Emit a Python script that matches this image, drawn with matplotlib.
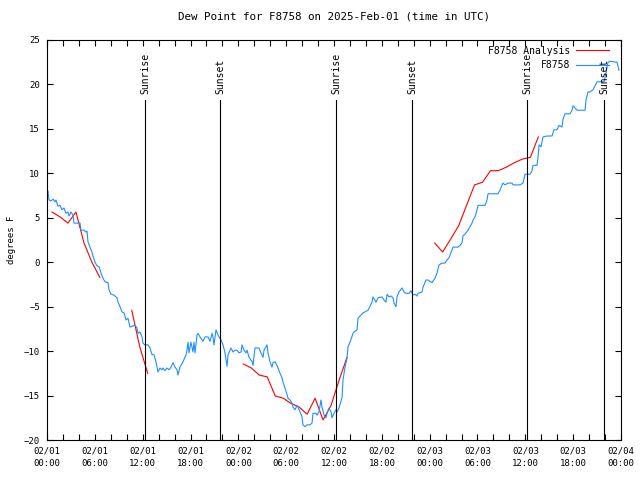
import matplotlib
matplotlib.use("Agg")
import matplotlib.pyplot as plt
import numpy as np

# hours since 2025-02-01 00:00 UTC
obs_hours = [0.13, 0.25, 0.50, 0.75, 1.00, 1.13, 1.38, 1.63, 1.88, 2.13, 2.38, 2.63, 2.76, 3.01, 3.26,
             3.39, 3.89, 4.14, 4.26, 4.64, 4.89, 5.02, 5.14, 5.39, 5.64, 5.77, 6.02, 6.27, 6.52, 6.77,
             7.02, 7.28, 7.65, 7.78, 8.03, 8.40, 8.78, 8.91, 9.16, 9.41, 9.66, 9.91, 10.16, 10.41, 10.66,
             11.04, 11.29, 11.42, 11.67, 11.92, 12.04, 12.29, 12.67, 12.92, 13.17, 13.42, 13.67, 13.92,
             14.17, 14.43, 14.55, 14.80, 15.05, 15.30, 15.55, 15.80, 16.06, 16.31, 16.43, 16.68, 17.06,
             17.44, 17.56, 17.69, 17.81, 18.06, 18.31, 18.44, 18.57, 18.82, 18.94, 19.19, 19.57, 19.82,
             20.20, 20.45, 20.70, 20.82, 20.95, 21.20, 21.45, 21.83, 22.08, 22.33, 22.58, 22.71, 23.08,
             23.33, 23.58, 23.83, 24.08, 24.34, 24.46, 24.71, 24.96, 25.09, 25.34, 25.72, 25.84, 26.09,
             26.59, 26.84, 27.10, 27.22, 27.60, 27.72, 27.97, 28.22, 28.35, 28.60, 28.85, 28.98, 29.23,
             29.48, 29.60, 29.85, 30.11, 30.23, 30.48, 30.73, 30.86, 31.11, 31.36, 31.49, 31.74, 31.99,
             32.11, 32.36, 32.61, 32.99, 33.24, 33.37, 33.74, 33.87, 34.12, 34.37, 34.50, 34.75, 35.00,
             35.12, 35.37, 35.63, 35.75, 36.00, 36.25, 36.38, 36.63, 37.01, 37.13, 37.38, 37.63, 37.76,
             38.01, 38.39, 38.51, 38.89, 39.01, 39.64, 40.27, 40.77, 40.89, 41.27, 41.52, 42.02, 42.27,
             42.52, 42.65, 42.90, 43.15, 43.40, 43.53, 43.78, 43.90, 44.15, 44.53, 44.78, 45.03, 45.41,
             45.66, 45.91, 46.16, 46.41, 46.54, 47.04, 47.17, 47.54, 47.79, 48.29, 48.67, 48.92, 49.17,
             49.55, 49.92, 50.18, 50.43, 50.80, 50.93, 51.56, 51.81, 52.06, 52.18, 52.56, 52.81, 53.06,
             53.31, 53.44, 53.69, 53.94, 54.07, 54.94, 55.19, 55.32, 56.57, 56.82, 57.08, 57.20, 57.45,
             57.83, 58.33, 58.46, 59.33, 59.71, 59.96, 60.59, 60.84, 60.96, 61.47, 61.59, 61.72, 61.97,
             62.22, 62.72, 63.35, 63.60, 63.97, 64.23, 64.60, 64.73, 64.98, 65.61, 65.86, 65.98, 66.49,
             67.49, 67.61, 67.86, 68.11, 68.49, 68.99, 69.87, 70.12, 70.37, 70.62, 71.50, 71.75]
obs_dewpt = [8.0, 7.0, 6.9, 7.1, 6.8, 7.0, 6.3, 6.4, 5.9, 6.1, 5.5, 5.65, 5.2, 5.65, 5.3,
             4.4, 4.4, 4.4, 3.6, 3.6, 3.4, 3.5, 2.3, 1.7, 1.15, 0.7, 0.0, -0.4, -0.5, -1.2,
             -1.8, -2.2, -2.3, -3.1, -3.6, -3.7, -4.0, -4.5, -5.0, -5.6, -5.7, -6.5, -6.3, -7.3, -7.2,
             -7.1, -7.4, -8.0, -7.85, -8.4, -9.1, -9.3, -9.3, -9.65, -10.4, -10.4, -11.2, -12.35,
             -11.9, -12.1, -11.9, -12.2, -11.9, -12.1, -11.8, -11.3, -11.8, -12.1, -12.7, -11.8, -11.2,
             -10.4, -9.9, -9.0, -10.2, -9.0, -10.1, -9.0, -10.2, -8.2, -8.0, -8.4, -8.9, -8.4,
             -8.4, -8.9, -8.0, -8.4, -9.3, -7.6, -8.2, -8.75, -9.3, -10.2, -11.7, -10.4, -9.65,
             -10.1, -9.9, -9.9, -10.2, -10.1, -9.3, -9.9, -10.2, -9.9, -10.7, -11.2, -11.6, -9.65,
             -9.65, -10.2, -10.7, -9.9, -9.3, -10.2, -11.2, -11.8, -11.3, -11.2, -11.6, -11.9, -12.5,
             -13.0, -13.5, -14.15, -14.9, -15.3, -15.5, -15.85, -16.3, -16.6, -16.1, -16.3, -16.85, -17.4,
             -18.3, -18.5, -18.3, -18.3, -18.1, -17.0, -17.0, -17.2, -16.85, -15.5, -16.3, -17.2, -17.5,
             -17.0, -16.4, -16.85, -17.5, -17.0, -16.6, -16.85, -16.4, -15.2, -13.25, -11.8, -10.8, -9.5,
             -9.0, -8.0, -7.85, -7.6, -6.3, -5.7, -5.4, -4.5, -3.9, -4.5, -4.0, -3.9, -4.25,
             -4.5, -3.6, -3.9, -3.8, -4.0, -4.6, -5.0, -3.9, -3.35, -2.9, -3.35, -3.5, -3.5,
             -3.2, -3.7, -3.6, -3.8, -3.5, -3.35, -2.8, -2.0, -2.0, -2.3, -1.8, -1.2, -0.3,
             -0.1, -0.1, 0.25, 0.5, 1.4, 1.7, 1.7, 1.9, 2.2, 2.95, 3.3, 3.6, 4.0,
             4.4, 4.75, 5.1, 5.9, 6.4, 6.4, 7.0, 7.7, 7.7, 8.1, 8.7, 8.9, 8.7,
             8.9, 8.9, 8.7, 8.7, 8.9, 9.9, 9.9, 10.3, 10.9, 10.9, 11.8, 13.2, 13.0,
             14.1, 14.2, 14.2, 14.9, 14.9, 15.4, 15.2, 16.1, 16.7, 16.7, 17.1, 17.6, 17.1,
             17.1, 18.25, 19.15, 19.15, 19.4, 20.3, 20.3, 21.3, 22.5, 22.6, 22.5, 21.6]

# hourly analysis, nan = missing
nan = np.nan
ana_hours = [k + 0.63 for k in range(62)]
ana_dewpt = [5.65, 5.1, 4.4, 5.65, 2.2, 0.0, -1.7, nan, nan, nan,
             -5.4, -9.5, -12.5, nan, nan, nan, nan, nan, nan, nan,
             nan, nan, nan, nan, -11.45, -11.9, -12.7, -12.9, -15.05, -15.3,
             -15.9, -16.3, -17.1, -15.3, -17.75, -16.1, -13.3, -10.7, nan, nan,
             nan, nan, nan, nan, nan, nan, nan, nan, 2.16, 1.15,
             2.6, 4.1, 6.4, 8.7, 9.0, 10.3, 10.3, 10.7, 11.2, 11.6,
             11.8, 14.1]

sun_hours = [12.29, 21.70, 36.25, 45.79, 60.21, 69.87]
sun_names = ["Sunrise", "Sunset", "Sunrise", "Sunset", "Sunrise", "Sunset"]

tick_hours = list(range(0, 73, 6))
tick_labels = ["02/01\n00:00", "02/01\n06:00", "02/01\n12:00", "02/01\n18:00",
               "02/02\n00:00", "02/02\n06:00", "02/02\n12:00", "02/02\n18:00",
               "02/03\n00:00", "02/03\n06:00", "02/03\n12:00", "02/03\n18:00",
               "02/04\n00:00"]

plt.rcParams['font.family'] = ['DejaVu Sans Mono']
plt.rcParams['font.size'] = 6.5

fig = plt.figure(figsize=(6.4, 4.8), dpi=100)
ax = fig.add_axes([47/640, 40/480, 574/640, 400/480])

ax.plot(ana_hours, ana_dewpt, color='#ff0000', lw=0.8, label='F8758 Analysis')
ax.plot(obs_hours, obs_dewpt, color='#1e90ff', lw=0.8, label='F8758')

#sunrise / sunset markers
for h, name in zip(sun_hours, sun_names):
    ax.plot([h, h], [0, 0.85], color='black', lw=0.8,
            transform=ax.get_xaxis_transform(), zorder=3)
    ax.text(h, 0.866, name, rotation=90, ha='center', va='bottom', fontsize=7,
            transform=ax.get_xaxis_transform(), zorder=4)

ax.set_xlim(0, 72)
ax.set_ylim(-20, 25)
ax.set_xticks(tick_hours)
ax.set_xticklabels(tick_labels, linespacing=1.5)
ax.set_xticks(range(0, 73, 2), minor=True)
ax.set_yticks(range(-20, 26, 5))
ax.tick_params(which='both', direction='in', top=True, right=True, length=4, width=0.8, pad=5)
for s in ax.spines.values():
    s.set_linewidth(0.8)

ax.set_title("Dew Point for F8758 on 2025-Feb-01 (time in UTC)", pad=15)
ax.set_ylabel("degrees F", labelpad=6)

ax.legend(loc='upper right', bbox_to_anchor=(0.99, 1.0), frameon=False, markerfirst=False,
          fontsize=7, handlelength=3.4, borderaxespad=0.2, labelspacing=0.45, handletextpad=0.6)

fig.savefig("out.png", dpi=100)
